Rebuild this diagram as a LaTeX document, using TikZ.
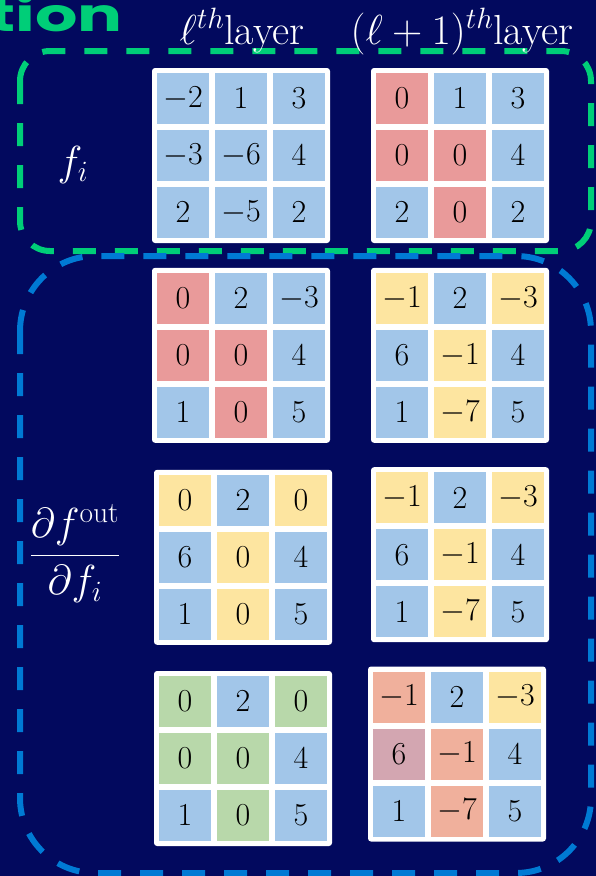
\documentclass[tikz,border=0pt]{standalone}
\usepackage{fix-cm}
\usepackage{amsmath}
\usepackage{fontspec}
\usepackage{tikz}
\usetikzlibrary{calc}
\newfontfamily\titlefont{Poppins}

\definecolor{navy}{RGB}{2,9,94}
\definecolor{boxgreen}{RGB}{0,206,120}
\definecolor{boxblue}{RGB}{0,122,212}
\definecolor{cb}{RGB}{162,198,233}
\definecolor{cr}{RGB}{233,154,154}
\definecolor{cy}{RGB}{253,229,160}
\definecolor{cg}{RGB}{184,216,170}
\definecolor{cs}{RGB}{240,176,156}
\definecolor{cm}{RGB}{211,166,177}

% 3x3 grid: name, x, y, entries value/colour
\newcommand{\matgrid}[4]{
    \node[board] (#1) at (#2,#3) {};
    \foreach \val/\col [count=\n from 0] in {#4} {
        \pgfmathtruncatemacro{\row}{div(\n,3)}
        \pgfmathtruncatemacro{\clm}{mod(\n,3)}
        \node[cell, fill=\col] (#1-\row\clm) at ($(#1)+(\clm*58-58,\row*57-57)$) {$\val$};
    }
}

\begin{document}
\begin{tikzpicture}[x=1pt, y=-1pt,
    board/.style={fill=white, rounded corners=3pt, minimum width=178pt, minimum height=175pt},
    cell/.style={minimum width=52pt, minimum height=51pt, inner sep=0pt, font=\fontsize{32}{38}\selectfont},
    side/.style={text=white, font=\fontsize{42}{50}\selectfont, anchor=base},
    head/.style={text=white, font=\fontsize{42}{48}\selectfont, anchor=base},
    groupbox/.style={dash pattern=on 23pt off 19pt, line width=6pt}]

    % background
    \fill[navy] (0,0) rectangle (596,876);
    \useasboundingbox (0,0) rectangle (596,876);

    % title, cut at the left
    \node[text=boxgreen, font=\titlefont\bfseries\fontsize{46}{54}\selectfont, anchor=base east, inner sep=0pt, xscale=1.45, transform shape] (title) at (123,31) {tion};

    % group boxes
    \draw[groupbox, boxgreen, rounded corners=30pt] (20,51) rectangle (591,251);
    \draw[groupbox, boxblue, rounded corners=75pt] (20,256) rectangle (591,873);

    % layer headers
    \node[head] (hl) at (242,44) {$\ell^{th}$layer};
    \node[head] (hn) at (462,44) {$(\ell+1)^{th}$layer};

    % row labels
    \node[side] (fi) at (73,175) {$f_i$};
    \node[side] (dfi) at (75,566) {$\dfrac{\partial f^{\text{out}}}{\partial f_i}$};

    % activations
    \matgrid{a}{241}{155.5}{-2/cb, 1/cb, 3/cb, -3/cb, -6/cb, 4/cb, 2/cb, -5/cb, 2/cb}
    \matgrid{b}{460}{155.5}{0/cr, 1/cb, 3/cb, 0/cr, 0/cr, 4/cb, 2/cb, 0/cr, 2/cb}

    % gradients
    \matgrid{c}{241}{355.3}{0/cr, 2/cb, -3/cb, 0/cr, 0/cr, 4/cb, 1/cb, 0/cr, 5/cb}
    \matgrid{d}{460}{355.3}{-1/cy, 2/cb, -3/cy, 6/cb, -1/cy, 4/cb, 1/cb, -7/cy, 5/cb}
    \matgrid{e}{243}{557.3}{0/cy, 2/cb, 0/cy, 6/cb, 0/cy, 4/cb, 1/cb, 0/cy, 5/cb}
    \matgrid{f}{460}{554.7}{-1/cy, 2/cb, -3/cy, 6/cb, -1/cy, 4/cb, 1/cb, -7/cy, 5/cb}
    \matgrid{g}{243}{758.5}{0/cg, 2/cb, 0/cg, 0/cg, 0/cg, 4/cb, 1/cb, 0/cg, 5/cb}
    \matgrid{h}{457}{754}{-1/cs, 2/cb, -3/cy, 6/cm, -1/cs, 4/cb, 1/cb, -7/cs, 5/cb}
\end{tikzpicture}
\end{document}
